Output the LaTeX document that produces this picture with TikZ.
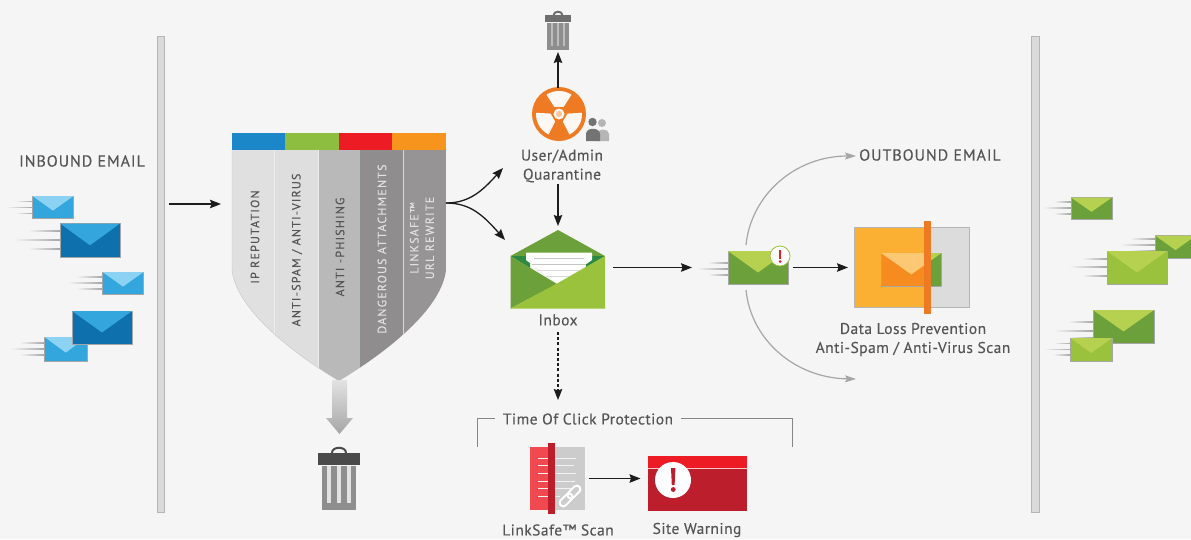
\documentclass[tikz,border=0pt]{standalone}
\usepackage{fontspec}
\setmainfont{PT Sans}
\usetikzlibrary{arrows.meta,calc}
\definecolor{bgc}{HTML}{F5F5F5}
\definecolor{txt}{HTML}{555555}
\definecolor{arrowc}{HTML}{1C1C1C}
\definecolor{barc}{HTML}{DADADA}
\definecolor{barl}{HTML}{B5B5B5}
\definecolor{arcc}{HTML}{A6A6A6}
\definecolor{bluedark}{HTML}{0F70AE}
\definecolor{bluemid}{HTML}{33A7DD}
\definecolor{bluelight}{HTML}{8CD2F3}
\definecolor{greendark}{HTML}{6BA03A}
\definecolor{greenlight}{HTML}{9BC23D}
\definecolor{greenpale}{HTML}{B6D14F}
\definecolor{greendeep}{HTML}{2C8A40}
\definecolor{orangec}{HTML}{EE7B24}
\definecolor{redc}{HTML}{ED1C24}
\definecolor{reddark}{HTML}{BC1E2B}
\definecolor{stripblue}{HTML}{1B87C9}
\definecolor{stripgreen}{HTML}{8DBE3F}
\definecolor{striporange}{HTML}{F7941E}
\definecolor{col1}{HTML}{E0E0E0}
\definecolor{col2}{HTML}{DEDEDE}
\definecolor{col3}{HTML}{B9B9B9}
\definecolor{col4}{HTML}{8F8D8D}
\definecolor{col5}{HTML}{969494}
\definecolor{dlpyellow}{HTML}{FBB034}
\definecolor{dlpgrey}{HTML}{DCDCDC}
\definecolor{dlpenv}{HTML}{F68B1F}
\definecolor{dlpflap}{HTML}{FDC873}
\definecolor{lidc}{HTML}{4A4A4A}
\definecolor{lidg}{HTML}{6E6E6E}
\definecolor{binc}{HTML}{8E8E8E}
\definecolor{binl}{HTML}{E2E2E2}
\definecolor{binm}{HTML}{BDBDBD}
\tikzset{
  lbl/.style={text=txt,font=\fontsize{15.5}{19}\selectfont\addfontfeature{LetterSpace=3,FakeBold=0.2},align=center,inner sep=0pt},
  caps/.style={text=txt,font=\fontsize{16}{18}\selectfont\addfontfeature{LetterSpace=6,FakeBold=0.2},inner sep=0pt},
  collbl/.style={rotate=90,font=\fontsize{12}{15.5}\selectfont\addfontfeature{LetterSpace=10,FakeBold=0.2},align=center,inner sep=0pt},
  ghost/.style={inner sep=0pt,outer sep=0pt,minimum width=#1},
  arr/.style={draw=arrowc,line width=1.3pt,-{Stealth[length=11pt,width=8.5pt,inset=1.5pt]}},
  dasharr/.style={arr,dash pattern=on 3pt off 2.2pt},
  grayarr/.style={draw=arcc,line width=1.2pt,-{Stealth[length=11pt,width=7pt,inset=2pt,fill=arcc]}},
  bracketline/.style={draw=gray!95,line width=1pt}
}
% x1 y1 x2 y2 body flap
\newcommand\envl[6]{%
  \fill[#5,draw=black!35,line width=.4pt] (#1,#2) rectangle (#3,#4);
  \fill[#6] (#1,#2) -- (#3,#2) -- ({(#1+#3)/2},{#2+(#4-#2)*.65}) -- cycle;
}
% x y1 y2 y3 short long
\newcommand\speedl[6]{%
  \shade[left color=bgc,right color=gray!70] (#1-#5,#2-.4) rectangle (#1,#2+.4);
  \shade[left color=bgc,right color=gray!70] (#1-#6,#3-.4) rectangle (#1,#3+.4);
  \shade[left color=bgc,right color=gray!70] (#1-#5,#4-.4) rectangle (#1,#4+.4);
}
% cx top scale lidcolour stripecolour
\newcommand\trash[5]{%
  \begin{scope}[shift={(#1,#2)},scale=#3]
    \draw[#4,line width=2pt] (-7,0) .. controls (-7,-7) and (7,-7) .. (7,0);
    \fill[#4] (-21,0) rectangle (21,12);
    \fill[binc] (-17,13) rectangle (17,57);
    \foreach \q in {-10,0,10}{\fill[#5] (\q-1.8,13) rectangle (\q+1.8,50);}
  \end{scope}
}
\begin{document}
\begin{tikzpicture}[x=1pt,y=-1pt]
\useasboundingbox (0,0) rectangle (1191,539);
\fill[bgc] (0,0) rectangle (1191,539);

% side bars
\fill[barc,draw=barl,line width=.4pt] (157,36) rectangle (164,512);
\fill[barc,draw=barl,line width=.4pt] (1031.5,36) rectangle (1039,512);

% captions
\node[caps] (inboundlbl) at (82,161) {INBOUND EMAIL};
\node[caps] (outboundlbl) at (930,155) {OUTBOUND EMAIL};

% inbound envelopes
\speedl{32.5}{201.5}{207.5}{213.5}{17}{27}
\envl{32.5}{196}{73.5}{218.5}{bluemid}{bluelight}
\speedl{60}{231}{240}{249}{32}{46}
\envl{60}{223.5}{120}{257}{bluedark}{bluemid}
\speedl{102.5}{277}{283}{289}{26}{35}
\envl{102.5}{272}{143.5}{294.5}{bluemid}{bluelight}
\speedl{44.5}{343}{349}{355}{25}{34}
\envl{44.5}{337}{87}{361}{bluemid}{bluelight}
\envl{72}{311}{132}{344}{bluedark}{bluemid}

% outbound envelopes
\speedl{1071}{202}{208}{214}{17}{27}
\envl{1071}{197.5}{1112}{219.5}{greendark}{greenpale}
\speedl{1155}{239}{245}{251}{25}{35}
\begin{scope}
  \clip (1100,230) rectangle (1191,262);
  \envl{1155}{235.5}{1196}{258}{greendark}{greenpale}
\end{scope}
\speedl{1107}{259}{267}{276}{25}{38}
\envl{1107}{251}{1167}{284}{greenlight}{greenpale}
\speedl{1093}{322}{331}{338}{25}{39}
\envl{1093}{310}{1154}{343}{greendark}{greenpale}
\speedl{1070.5}{343.5}{349.5}{355}{17}{27}
\envl{1070.5}{338}{1112}{361}{greenlight}{greenpale}

% shield
\begin{scope}
  \clip (232,150) -- (446,150) -- (446,270)
     .. controls (442,305) and (398,345) .. (339,381)
     .. controls (280,345) and (236,305) .. (232,270) -- cycle;
  \fill[col1] (232,150) rectangle (274,381);
  \fill[col2] (274,150) rectangle (318,381);
  \fill[col3] (318,150) rectangle (360,381);
  \fill[col4] (360,150) rectangle (403,381);
  \fill[col5] (403,150) rectangle (446,381);
  \draw[white!85!gray,line width=.6pt] (274,150) -- (274,381) (318,150) -- (318,381);
  \draw[white!70!gray,line width=.6pt] (403,150) -- (403,381);
\end{scope}
\draw[gray!45,line width=.4pt] (232,150) -- (232,270) .. controls (236,305) and (280,345) .. (339,381);
\fill[stripblue] (232,133) rectangle (285,150);
\fill[stripgreen] (285,133) rectangle (338.5,150);
\fill[redc] (338.5,133) rectangle (392,150);
\fill[striporange] (392,133) rectangle (446,150);
\node[collbl,text=txt] (colip) at (255,237) {IP REPUTATION};
\node[collbl,text=txt] (colspam) at (297,250) {ANTI-SPAM / ANTI-VIRUS};
\node[collbl,text=txt] (colphish) at (340,247) {ANTI -PHISHING};
\node[collbl,text=col1] (coldanger) at (382,249) {DANGEROUS ATTACHMENTS};
\node[collbl,text=col1] (collink) at (422,238) {LINKSAFE™\\URL REWRITE};

% grey arrow and big trash
\shade[top color=binl,bottom color=gray!70] (332,380) -- (347,380) -- (347,418) -- (353,418) -- (339.5,434) -- (326,418) -- (332,418) -- cycle;
\trash{339}{453}{1}{lidc}{binl}

% quarantine
\trash{558}{15}{.62}{lidg}{binm}
\node[ghost=54pt,minimum height=54pt] (radiation) at (559,114) {};
\fill[orangec] (559,114) circle[radius=27pt];
\begin{scope}[shift={(559,114)}]
  \foreach \a in {-90,30,150}{
    \fill[white!95!orangec] plot[domain=\a-33:\a+33,samples=12] (\x:23) -- plot[domain=\a+33:\a-33,samples=2] (\x:8.5) -- cycle;
  }
  \fill[white!95!orangec] (0,0) circle[radius=5.5pt];
  \fill[orangec!45!white] (0,0) circle[radius=3pt];
\end{scope}
% people
\fill[barl] (602,123) circle[radius=4pt];
\fill[barl] (597,141) -- (597,134) .. controls (597,128) and (609,128) .. (609,134) -- (609,141) -- cycle;
\fill[black!55] (592.5,122) circle[radius=4.2pt];
\fill[black!55] (586,141) -- (586,134) .. controls (586,127) and (600,127) .. (600,134) -- (600,141) -- cycle;
\node[lbl] (quarlbl) at (562,166) {User/Admin\\Quarantine};
\node[ghost=34pt,minimum height=36pt] (toptrash) at (558,32) {};

% inbox
\fill[greendark] (510.5,256) -- (558,230) -- (605,256) -- cycle;
\fill[greendeep] (510.5,256) -- (530,256) -- (530,268) -- cycle;
\fill[greendeep] (605,256) -- (586,256) -- (586,268) -- cycle;
\fill[white] (526,252.5) -- (592,252.5) -- (592,260) -- (558,284) -- (526,260) -- cycle;
\draw[gray!45,line width=.6pt] (534,258.5) -- (584,258.5) (532,264) -- (586,264);
\draw[gray!30,line width=.8pt] (537,270) -- (579,270) (546,276) -- (571,276);
\fill[greendark] (510.5,256) -- (557,284) -- (510.5,308.5) -- cycle;
\fill[greenlight] (605,256) -- (558,283) -- (510.5,308.5) -- (605,308.5) -- cycle;
\node[ghost=94.5pt,minimum height=78.5pt] (inbox) at (557.75,269.25) {};
\node[lbl] (inboxlbl) at (558,320) {Inbox};

% flagged mail
\speedl{728}{263}{269}{275}{20}{31}
\envl{728}{251}{788}{284}{greendark}{greenpale}
\node[circle,draw=greenlight,fill=white,line width=.8pt,minimum size=20pt,inner sep=0pt] (badge) at (780,256) {};
\fill[redc] (779,249.5) rectangle (781.2,259);
\fill[redc] (780.1,261.5) circle[radius=1.4pt];
\node[ghost=60pt,minimum height=33pt] (mail) at (758,267.5) {};

% DLP
\fill[dlpyellow] (854,227.5) rectangle (924,307.5);
\fill[dlpgrey] (924,227.5) rectangle (969,307.5);
\draw[barl,line width=.4pt] (854,227.5) rectangle (969,307.5);
\begin{scope}
  \clip (881,253) rectangle (924,286);
  \envl{881}{253}{941.5}{286}{dlpenv}{dlpflap}
\end{scope}
\begin{scope}
  \clip (931,253) rectangle (941.5,286);
  \envl{881}{253}{941.5}{286}{greendark}{greenpale}
\end{scope}
\fill[orangec] (924,221) rectangle (931,314);
\node[ghost=115pt,minimum height=80pt] (dlp) at (911.5,267.5) {};
\node[lbl] (dlplbl) at (913,339.5) {Data Loss Prevention\\Anti-Spam / Anti-Virus Scan};

% time of click
\node[lbl] (toclbl) at (588,419) {Time Of Click Protection};
\coordinate (brLa) at (477,447);
\coordinate (brLb) at (477,418);
\coordinate (brLc) at (495,418);
\coordinate (brRa) at (681,418);
\coordinate (brRb) at (792,418);
\coordinate (brRc) at (792,447);
\draw[bracketline] (brLa) -- (brLb) -- (brLc);
\draw[bracketline] (brRa) -- (brRb) -- (brRc);

% linksafe icon
\fill[redc!80!white] (530,447) rectangle (548,510);
\fill[gray!40] (555,447) rectangle (585,510);
\foreach \yy/\xe in {458/576,465/574,473/576,481/575,488/571,496/560}{
  \draw[white!90!gray,line width=.8pt] (538,\yy) -- (\xe,\yy);
}
\begin{scope}[shift={(570,496)},rotate=45]
  \draw[white,line width=2pt,rounded corners=3pt] (-13,-3.5) rectangle (2,3.5);
  \draw[white,line width=2pt,rounded corners=3pt] (-2,-3.5) rectangle (13,3.5);
\end{scope}
\fill[reddark] (548,443) rectangle (555,514);
\node[ghost=55pt,minimum height=63pt] (linkicon) at (557.5,478.5) {};
\node[lbl] (linklbl) at (558,530) {LinkSafe™ Scan};

% site warning
\fill[reddark] (647.5,455.5) rectangle (746.5,511);
\fill[redc] (647.5,455.5) rectangle (746.5,468);
\draw[white!75!redc,line width=.8pt] (647.5,468.5) -- (746.5,468.5);
\node[circle,fill=white,minimum size=36pt,inner sep=0pt] (warncircle) at (673,480) {};
\fill[reddark] (671,468) -- (675.4,468) -- (674.6,485) -- (671.8,485) -- cycle;
\fill[reddark] (673.2,489.5) circle[radius=2.4pt];
\node[ghost=99pt,minimum height=55.5pt] (warning) at (697,483.25) {};
\node[lbl] (warnlbl) at (697,530) {Site Warning};

% connectors
\coordinate (inA) at (169,204);
\coordinate (inB) at (221,204);
\coordinate (shieldout) at (446,203);
\coordinate (shieldUp) at (503,168);
\coordinate (shieldDn) at (505,240);
\coordinate (quarOut) at (558,184);
\coordinate (inboxIn) at (558,226);
\coordinate (dashA) at (558,332);
\coordinate (dashB) at (558,400);
\draw[arr] (inA) -- (inB);
\draw[arr] (shieldout) .. controls (470,203) and (483,190) .. (shieldUp);
\draw[arr] (shieldout) .. controls (470,203) and (483,215) .. (shieldDn);
\draw[arr] ([yshift=-1pt]radiation.north -| toptrash.south) -- ([yshift=-2pt]toptrash.south);
\draw[arr] (quarOut) -- (inboxIn);
\draw[arr] ([xshift=8pt]inbox.east |- mail.center) -- ([xshift=-36pt]mail.west);
\draw[arr] ([xshift=5pt]mail.east) -- ([xshift=-6pt]mail.east -| dlp.west);
\draw[dasharr] (dashA) -- (dashB);
\draw[arr] ([xshift=4pt]linkicon.east) -- ([xshift=-7pt]linkicon.east -| warning.west);
\coordinate (upA) at (746,245);
\coordinate (upB) at (856,156);
\coordinate (dnA) at (746,290);
\coordinate (dnB) at (856,379);
\draw[grayarr] (upA) .. controls (751,195) and (795,156) .. (upB);
\draw[grayarr] (dnA) .. controls (751,340) and (795,378) .. (dnB);
\end{tikzpicture}
\end{document}
